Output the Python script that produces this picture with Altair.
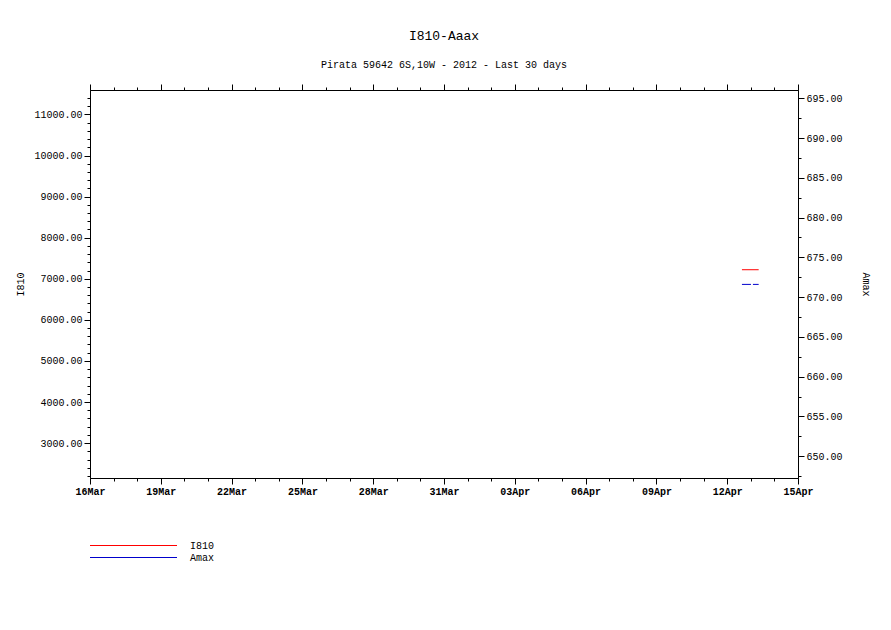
import altair as alt
import pandas as pd

# ---------------- data ----------------
i810_time = ["2012-04-12T15:00:00Z", "2012-04-13T08:00:00Z"]
i810_value = [7220.0, 7220.0]
amax_time = ["2012-04-12T15:00:00Z", "2012-04-13T08:00:00Z"]
amax_value = [671.6, 671.6]
series_names = ["I810", "Amax"]
series_colors = ["#ff0000", "#0000cc"]

x_start = "2012-03-16"
x_end = "2012-04-15"
i810_domain = [2150, 11595]
amax_domain = [647.25, 696.05]
i810_major = [3000, 4000, 5000, 6000, 7000, 8000, 9000, 10000, 11000]
amax_major = [650, 655, 660, 665, 670, 675, 680, 685, 690, 695]

# ---------------- helpers ----------------
DAY = 86400000
t0 = int(pd.Timestamp(x_start, tz="UTC").value // 10**6)
t1 = int(pd.Timestamp(x_end, tz="UTC").value // 10**6)
x_major_vals = list(range(t0, t1 + 1, 3 * DAY))
x_minor_vals = list(range(t0, t1 + 1, DAY))
i810_minor = list(range(2200, 11601, 200))
amax_minor = [647.5 + 2.5 * i for i in range(20)]

FONT = "Liberation Mono"

df_i = pd.DataFrame({"time": i810_time, "value": i810_value})
df_a = pd.DataFrame({"time": amax_time, "value": amax_value})
df_leg = pd.DataFrame({"series": series_names})

xscale = alt.Scale(type="utc", domain=[t0, t1], nice=False)
yl_scale = alt.Scale(domain=i810_domain, nice=False, zero=False)
yr_scale = alt.Scale(domain=amax_domain, nice=False, zero=False)

common_axis = dict(
    grid=False, labelFont=FONT, labelFontSize=10, labelColor="black",
    tickColor="black", domainColor="black", titleFont=FONT, titleFontSize=10,
    titleFontWeight="normal", titleColor="black",
)

ax_bottom = alt.Axis(orient="bottom", values=x_major_vals,
                     labelExpr="utcFormat(datum.value, '%d%b')", labelFontWeight="bold",
                     tickSize=6, labelPadding=2, labelFlush=False, labelOverlap=False,
                     title="", **common_axis)
ax_bottom_minor = alt.Axis(orient="bottom", values=x_minor_vals, tickSize=3, labels=False,
                           domain=False, title="", **common_axis)
ax_top = alt.Axis(orient="top", values=x_major_vals, tickSize=6, labels=False, title="",
                  **common_axis)
ax_top_minor = alt.Axis(orient="top", values=x_minor_vals, tickSize=3, labels=False,
                        domain=False, title="", **common_axis)

ax_left = alt.Axis(orient="left", values=i810_major, format=".2f", tickSize=6, labelPadding=2,
                   title="I810", titlePadding=8, labelOverlap=False, **common_axis)
ax_left_minor = alt.Axis(orient="left", values=i810_minor, tickSize=3, labels=False,
                         domain=False, title="", **common_axis)
ax_right = alt.Axis(orient="right", values=amax_major, format=".2f", tickSize=6, labelPadding=2,
                    title="Amax", titlePadding=18, labelOverlap=False, **common_axis)
ax_right_minor = alt.Axis(orient="right", values=amax_minor, tickSize=3, labels=False,
                          domain=False, title="", **common_axis)

red = alt.Chart(df_i).mark_line(color=series_colors[0], strokeWidth=1).encode(
    x=alt.X("time:T", scale=xscale, axis=ax_bottom),
    y=alt.Y("value:Q", scale=yl_scale, axis=ax_left),
)
blue = alt.Chart(df_a).mark_line(color=series_colors[1], strokeWidth=1, strokeDash=[9, 2]).encode(
    x=alt.X("time:T", scale=xscale, axis=ax_top),
    y=alt.Y("value:Q", scale=yr_scale, axis=ax_right),
)
minor_l = alt.Chart(df_i).mark_point(opacity=0).encode(
    x=alt.X("time:T", scale=xscale, axis=ax_bottom_minor),
    y=alt.Y("value:Q", scale=yl_scale, axis=ax_left_minor),
)
minor_r = alt.Chart(df_a).mark_point(opacity=0).encode(
    x=alt.X("time:T", scale=xscale, axis=ax_top_minor),
    y=alt.Y("value:Q", scale=yr_scale, axis=ax_right_minor),
)

leg_y = alt.Y("series:N",
              scale=alt.Scale(type="point", domain=series_names, range=[455.5, 467.5], padding=0),
              axis=None)
leg_rule = alt.Chart(df_leg).mark_rule(strokeWidth=1).encode(
    x=alt.value(0), x2=alt.value(87), y=leg_y,
    color=alt.Color("series:N", scale=alt.Scale(domain=series_names, range=series_colors), legend=None),
)
leg_text = alt.Chart(df_leg).mark_text(align="left", baseline="middle", font=FONT, fontSize=10,
                                       color="black").encode(
    x=alt.value(100), y=leg_y, text="series:N",
)

chart = alt.layer(red, blue, minor_l, minor_r, leg_rule, leg_text).resolve_scale(
    y="independent"
).resolve_axis(
    x="independent", y="independent"
).properties(
    width=708,
    height=388,
    padding={"left": 82, "top": 82, "right": 85, "bottom": 144},
    autosize=alt.AutoSizeParams(type="none"),
    title=alt.TitleParams(
        text="I810-Aaax",
        subtitle="Pirata 59642 6S,10W - 2012 - Last 30 days",
        font=FONT, fontSize=13, fontWeight="normal", color="black",
        subtitleFont=FONT, subtitleFontSize=10, subtitleColor="black",
        anchor="middle", offset=14, subtitlePadding=17,
    ),
).configure_view(stroke="black", strokeWidth=1).configure(background="white")

chart.save("out.html", embed_options={"renderer": "svg", "actions": False})
